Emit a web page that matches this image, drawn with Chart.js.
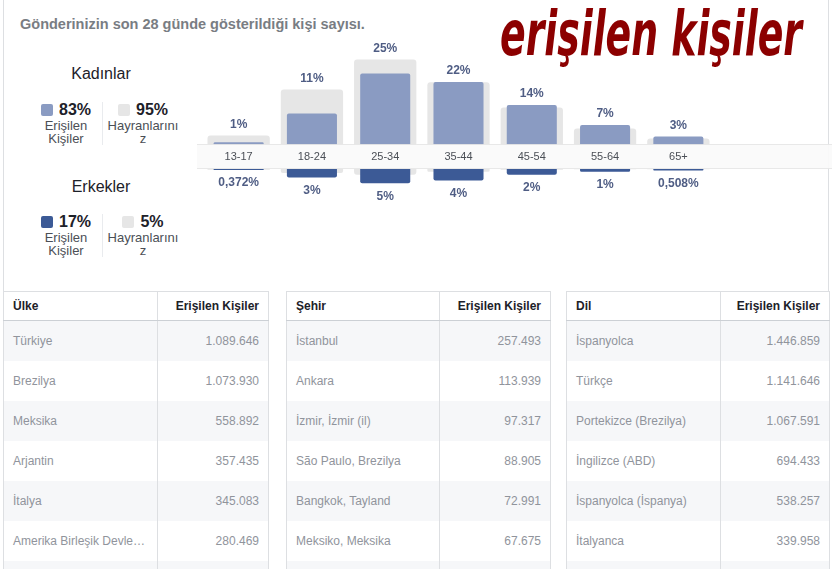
<!DOCTYPE html>
<html lang="tr">
<head>
<meta charset="utf-8">
<script src="https://cdn.jsdelivr.net/npm/chart.js@4.4.1/dist/chart.umd.min.js"></script>
<style>
body { margin:0; width:832px; height:569px; overflow:hidden; background:#fff; position:relative;
       font-family:"Liberation Sans", Arial, Helvetica, sans-serif; }
.frame { position:absolute; left:3px; top:-1px; width:824px; height:292px;
         border-left:1px solid #dddfe2; border-right:1px solid #dddfe2; }
.subtitle { position:absolute; left:20px; top:16px; font-size:14.5px; font-weight:bold; color:#797d83; white-space:nowrap; }
.bigtitle { position:absolute; left:500px; top:2px; font-size:63px; line-height:63px; font-style:italic; font-weight:bold; color:#8c0000;
            font-family:"Liberation Sans Narrow","DejaVu Sans Condensed",sans-serif; white-space:nowrap; transform-origin:0 0; }
.gender { position:absolute; width:120px; left:41px; text-align:center; font-size:16px; color:#1d2129; }
.item { position:absolute; width:74px; text-align:center; font-size:13px; line-height:13px; color:#4b4f56; }
.item .top { font-size:16px; font-weight:bold; color:#1d2129; line-height:16px; margin-bottom:1px; }
.sw { display:inline-block; width:12px; height:12px; border-radius:2px; margin-right:6px; vertical-align:-1px; }
.divider { position:absolute; left:102px; width:1px; background:#e9ebee; }
#chartBox { position:absolute; left:197px; top:30px; width:635px; height:190px; }
table { position:absolute; top:291px; border-collapse:collapse; table-layout:fixed; font-size:12px; }
th, td { height:40px; padding:0 9px; white-space:nowrap; overflow:hidden; text-overflow:ellipsis;
         border-left:1px solid #dddfe2; border-right:1px solid #dddfe2; }
th { height:28px; text-align:left; color:#1d2129; border-top:1px solid #dddfe2; border-bottom:1px solid #ccd0d5; }
th.num, td.num { text-align:right; }
td { color:#90949c; }
tr.alt td { background:#f6f7f9; }
</style>
</head>
<body>
<div class="frame"></div>
<div class="subtitle">Gönderinizin son 28 günde gösterildiği kişi sayısı.</div>
<div class="bigtitle" id="bigtitle">erişilen kişiler</div>

<div id="legend"></div>

<div id="chartBox"><canvas id="ageChart"></canvas></div>

<div id="tables"></div>

<script>
// age groups and percentages
var ageGroups = ['13-17', '18-24', '25-34', '35-44', '45-54', '55-64', '65+'];
var womenReached = [1, 11, 25, 22, 14, 7, 3];
var menReached = [0.372, 3, 5, 4, 2, 1, 0.508];
// fans (grey bars) are not labelled
var womenFans = [3.3, 19.4, 29.9, 21.9, 13.1, 5.8, 2.3];
var menFans = [0.3, 1.4, 2.0, 1.0, 0.3, 0.1, 0.1];

// totals shown in the legend
var genderNames = ['Kadınlar', 'Erkekler'];
var reachedTotals = [83, 17];
var fansTotals = [95, 5];

// tables
var countries = ['Türkiye', 'Brezilya', 'Meksika', 'Arjantin', 'İtalya', 'Amerika Birleşik Devletleri'];
var countryReach = ['1.089.646', '1.073.930', '558.892', '357.435', '345.083', '280.469'];
var cities = ['İstanbul', 'Ankara', 'İzmir, İzmir (il)', 'São Paulo, Brezilya', 'Bangkok, Tayland', 'Meksiko, Meksika'];
var cityReach = ['257.493', '113.939', '97.317', '88.905', '72.991', '67.675'];
var languages = ['İspanyolca', 'Türkçe', 'Portekizce (Brezilya)', 'İngilizce (ABD)', 'İspanyolca (İspanya)', 'İtalyanca'];
var languageReach = ['1.446.859', '1.141.646', '1.067.591', '694.433', '538.257', '339.958'];

var womenColor = '#8a9bc2';
var menColor = '#3c5a96';
var fanColor = '#e6e6e6';

// squeeze the big title to the width it has in the screenshot
var bt = document.getElementById('bigtitle');
bt.style.transform = 'scaleX(' + (302 / bt.offsetWidth) + ')';

// legend on the left
var legendHtml = '';
var gTop = [65, 178];
var iTop = [102, 214];
for (var g = 0; g < 2; g++) {
    var c = g === 0 ? womenColor : menColor;
    legendHtml += '<div class="gender" style="top:' + gTop[g] + 'px">' + genderNames[g] + '</div>';
    legendHtml += '<div class="item" style="left:29px;top:' + iTop[g] + 'px"><div class="top"><span class="sw" style="background:' + c + '"></span>' +
        reachedTotals[g] + '%</div>Erişilen<br>Kişiler</div>';
    legendHtml += '<div class="divider" style="top:' + iTop[g] + 'px;height:43px"></div>';
    legendHtml += '<div class="item" style="left:106px;top:' + iTop[g] + 'px"><div class="top"><span class="sw" style="background:' + fanColor + '"></span>' +
        fansTotals[g] + '%</div>Hayranlarını<br>z</div>';
}
document.getElementById('legend').innerHTML = legendHtml;

// tables
function buildTable(left, w1, w2, head, names, values) {
    var h = '<table style="left:' + left + 'px;width:' + (w1 + w2) + 'px"><colgroup><col style="width:' + w1 + 'px"><col style="width:' + w2 + 'px"></colgroup>';
    h += '<tr><th>' + head + '</th><th class="num">Erişilen Kişiler</th></tr>';
    for (var i = 0; i < names.length; i++) {
        h += '<tr' + (i % 2 === 0 ? ' class="alt"' : '') + '><td>' + names[i] + '</td><td class="num">' + values[i] + '</td></tr>';
    }
    h += '<tr class="alt"><td></td><td></td></tr></table>';
    return h;
}
document.getElementById('tables').innerHTML =
    buildTable(3, 154, 111, 'Ülke', countries, countryReach) +
    buildTable(286, 153, 111, 'Şehir', cities, cityReach) +
    buildTable(566, 154, 109, 'Dil', languages, languageReach);

// chart geometry: both value scales share px per percent,
// women grow up from the top of the label band, men grow down from its bottom
var PX_PER_PCT = 2.86;
var H = 190;
var womenBase = 115;
var menBase = 139;

function fmt(v) {
    return String(v).replace('.', ',') + '%';
}

var bandAndLabels = {
    id: 'bandAndLabels',
    afterDatasetsDraw: function (chart) {
        var ctx = chart.ctx;
        var top = chart.scales.yW.getPixelForValue(0) - 1;
        var bot = chart.scales.yM.getPixelForValue(0);
        ctx.save();
        ctx.fillStyle = 'rgba(250,250,250,0.93)';
        ctx.fillRect(0, top, chart.width, bot - top);
        ctx.fillStyle = 'rgba(0,0,0,0.07)';
        ctx.fillRect(0, top, chart.width, 1);
        ctx.fillRect(0, bot - 1, chart.width, 1);

        ctx.font = 'bold 12px "Liberation Sans", Arial, sans-serif';
        ctx.fillStyle = '#4f5d84';
        ctx.textAlign = 'center';
        ctx.textBaseline = 'middle';
        var wR = chart.getDatasetMeta(0).data, mR = chart.getDatasetMeta(1).data;
        var wF = chart.getDatasetMeta(2).data, mF = chart.getDatasetMeta(3).data;
        for (var i = 0; i < ageGroups.length; i++) {
            ctx.fillText(fmt(womenReached[i]), wR[i].x, Math.min(wR[i].y, wF[i].y) - 11);
            ctx.fillText(fmt(menReached[i]), mR[i].x, Math.max(mR[i].y, mF[i].y) + 13);
        }
        ctx.restore();
    }
};

Chart.defaults.font.family = '"Liberation Sans", Arial, sans-serif';

var ctx = document.getElementById('ageChart').getContext('2d');
var ageChart = new Chart(ctx, {
    type: 'bar',
    data: {
        labels: ageGroups,
        datasets: [{
            label: 'Kadınlar Erişilen Kişiler',
            data: womenReached,
            yAxisID: 'yW',
            backgroundColor: womenColor,
            borderRadius: 2,
            barPercentage: 0.683,
            order: 1
        }, {
            label: 'Erkekler Erişilen Kişiler',
            data: menReached,
            yAxisID: 'yM',
            backgroundColor: menColor,
            borderRadius: 2,
            barPercentage: 0.683,
            order: 1
        }, {
            label: 'Kadınlar Hayranlarınız',
            data: womenFans,
            yAxisID: 'yW',
            backgroundColor: fanColor,
            borderRadius: 3,
            barPercentage: 0.85,
            order: 2
        }, {
            label: 'Erkekler Hayranlarınız',
            data: menFans,
            yAxisID: 'yM',
            backgroundColor: fanColor,
            borderRadius: 3,
            barPercentage: 0.85,
            order: 2
        }]
    },
    options: {
        responsive: true,
        maintainAspectRatio: false,
        animation: false,
        layout: { padding: { left: 5, right: 117, top: 0, bottom: 0 } },
        datasets: { bar: { grouped: false, categoryPercentage: 1, borderSkipped: 'start' } },
        plugins: {
            legend: { display: false },
            tooltip: { enabled: false }
        },
        scales: {
            x: {
                axis: 'x',
                position: { yW: 0 },
                z: 1,
                grid: { display: false, drawTicks: false },
                border: { display: false },
                ticks: { z: 1, padding: 5, color: '#4b4f56', font: { size: 11 } }
            },
            yW: {
                type: 'linear',
                display: false,
                min: -(H - womenBase) / PX_PER_PCT,
                max: womenBase / PX_PER_PCT
            },
            yM: {
                type: 'linear',
                display: false,
                reverse: true,
                min: -menBase / PX_PER_PCT,
                max: (H - menBase) / PX_PER_PCT
            }
        }
    },
    plugins: [bandAndLabels]
});
</script>
</body>
</html>
